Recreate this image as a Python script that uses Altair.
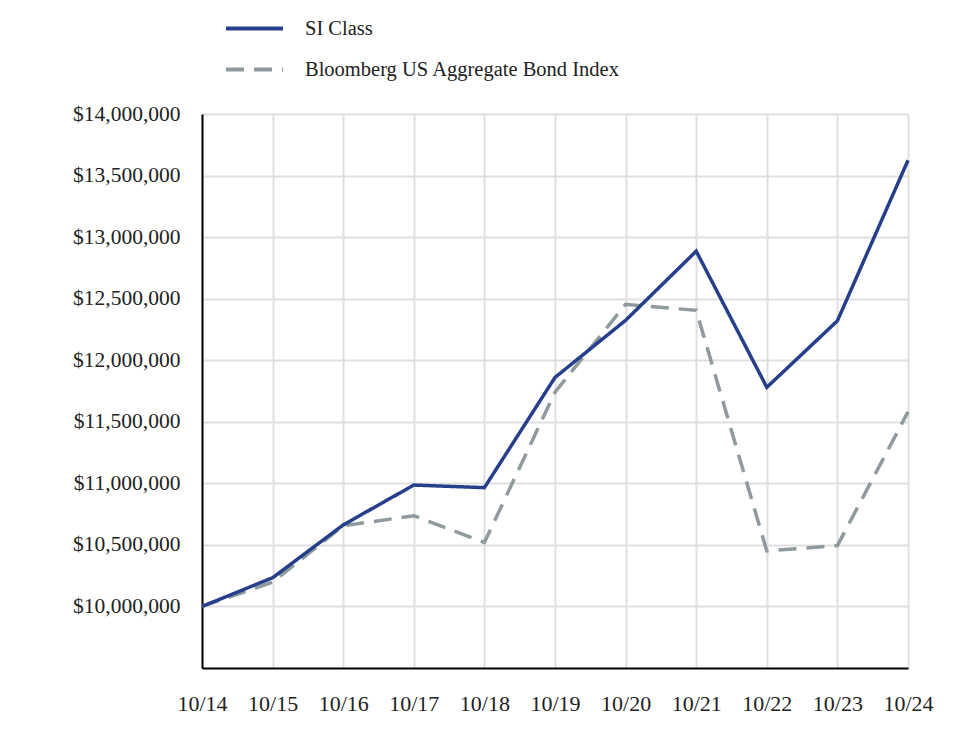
import altair as alt
import pandas as pd

dates = ["10/14", "10/15", "10/16", "10/17", "10/18", "10/19",
         "10/20", "10/21", "10/22", "10/23", "10/24"]
series_names = ["SI Class", "Bloomberg US Aggregate Bond Index"]
si_class = [10000000, 10233000, 10662000, 10986000, 10965000, 11860000,
            12324000, 12886000, 11780000, 12320000, 13624000]
bloomberg = [10000000, 10197000, 10655000, 10737000, 10519000, 11740000,
             12454000, 12405000, 10451000, 10494000, 11580000]
y_ticks = [10000000, 10500000, 11000000, 11500000, 12000000,
           12500000, 13000000, 13500000, 14000000]

rows = []
for d, v in zip(dates, bloomberg):
    rows.append({"date": d, "value": v, "series": series_names[1]})
for d, v in zip(dates, si_class):
    rows.append({"date": d, "value": v, "series": series_names[0]})
df = pd.DataFrame(rows)

FONT = "Liberation Serif"

legend = alt.Legend(
    title=None, orient="none", legendX=22, legendY=-116,
    symbolType="stroke", symbolSize=3249, symbolStrokeWidth=4,
    labelFontSize=20.5, labelFont=FONT, labelColor="#222222",
    labelOffset=20, rowPadding=-3, padding=0, labelLimit=600,
)

chart = alt.Chart(df).mark_line(strokeWidth=3.5, strokeCap="butt", strokeJoin="miter").encode(
    x=alt.X("date:N", sort=dates,
            scale=alt.Scale(type="point", padding=0),
            axis=alt.Axis(title=None, labelAngle=0, labelPadding=25, ticks=False,
                          domainColor="#000000", domainWidth=2, grid=True,
                          gridColor="#e0e0e0", gridWidth=2,
                          labelFont=FONT, labelFontSize=22, labelColor="#222222")),
    y=alt.Y("value:Q",
            scale=alt.Scale(domain=[9500000, 14000000], nice=False, zero=False),
            axis=alt.Axis(title=None, values=y_ticks, format="$,.0f", ticks=False,
                          labelPadding=22, domainColor="#000000", domainWidth=2,
                          grid=True, gridColor="#e0e0e0", gridWidth=2,
                          labelFont=FONT, labelFontSize=21.5, labelColor="#222222")),
    color=alt.Color("series:N", sort=series_names,
                    scale=alt.Scale(domain=series_names, range=["#263f8b", "#8e9a9d"]),
                    legend=legend),
    strokeDash=alt.StrokeDash("series:N", sort=series_names,
                              scale=alt.Scale(domain=series_names, range=[[1, 0], [18, 10]]),
                              legend=legend),
).properties(
    width=706, height=554,
    padding={"left": 194, "top": 106, "right": 40, "bottom": 60},
    autosize=alt.AutoSizeParams(type="none"),
).configure_view(stroke=None)

chart.save("out.html", embed_options={"renderer": "svg", "actions": False})
